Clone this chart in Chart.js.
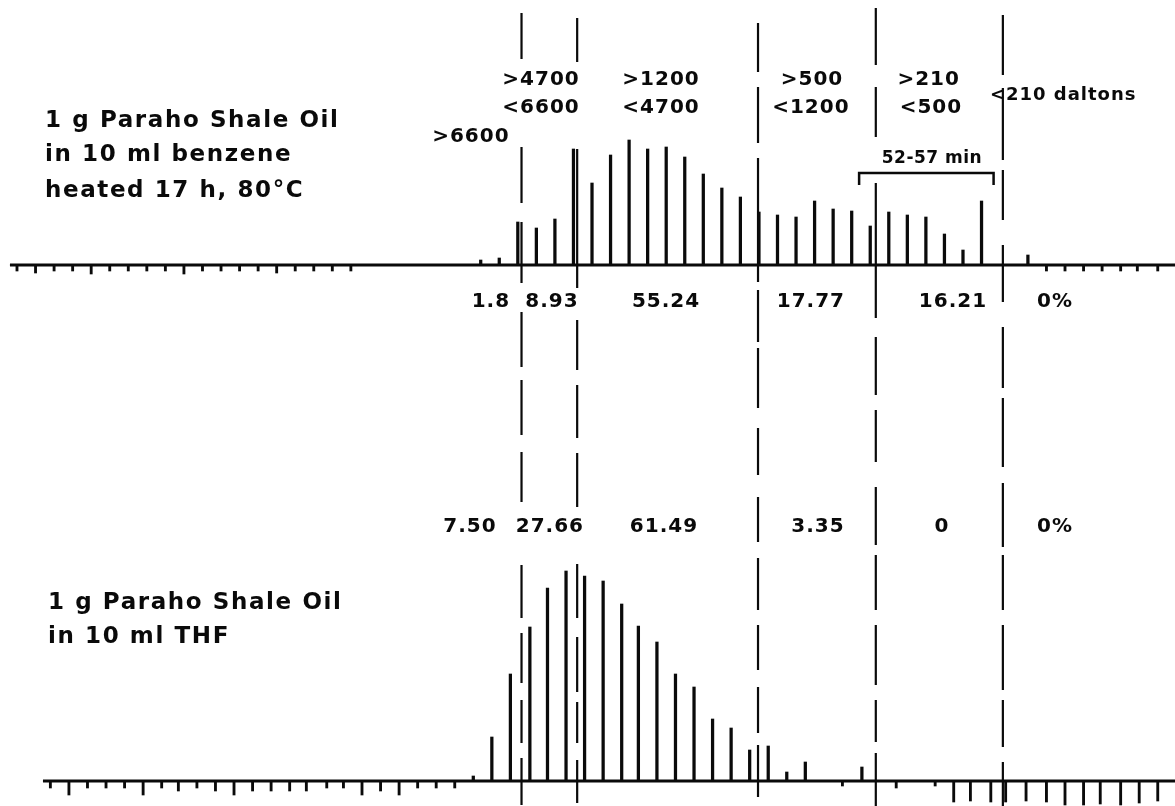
<!DOCTYPE html>
<html lang="en">
<head>
<meta charset="utf-8">
<title>Paraho shale oil – gel permeation fractions</title>
<script src="https://cdn.jsdelivr.net/npm/chart.js@4.4.1/dist/chart.umd.min.js"></script>
<style>
  html, body { margin: 0; padding: 0; background: #ffffff; }
  #frame { width: 1175px; height: 806px; }
  canvas { display: block; }
</style>
</head>
<body>
<div id="frame"><canvas id="gpc" width="1175" height="806"></canvas></div>
<script>
// ---------------- Data: fraction number (x) and recorder response (y) ----------------

// Upper trace: 1 g Paraho shale oil in 10 ml benzene, heated 17 h at 80 °C
const benzeneFractions = [25, 26, 27, 28, 29, 30, 31, 32, 33, 34, 35, 36, 37, 38, 39, 40,
                          41, 42, 43, 44, 45, 46, 47, 48, 49, 50, 51, 52, 54.5];
const benzeneResponse  = [5, 7, 43, 37, 46, 116, 82, 110, 125, 116, 118, 108, 91, 77, 68, 53,
                          50, 48, 64, 56, 54, 39, 53, 50, 48, 31, 15, 64, 10];
// timer marks written below the upper baseline
const benzeneMarkAt    = [0, 1, 2, 3, 4, 5, 6, 7, 8, 9, 10, 11, 12, 13, 14, 15, 16, 17, 18,
                          55.5, 56.5, 57.5, 58.5, 59.5, 60.4, 61.5];
const benzeneMarkDepth = [-6, -8, -6, -6, -9, -6, -6, -6, -6, -9, -6, -6, -6, -6, -8, -6, -6, -6, -6,
                          -6, -6, -6, -6, -6, -6, -6];

// Lower trace: 1 g Paraho shale oil in 10 ml THF
const thfFractions = [24.6, 25.6, 26.6, 27.65, 28.6, 29.6, 30.6, 31.6, 32.6, 33.5, 34.5, 35.5,
                      36.5, 37.5, 38.5, 39.5, 40.5, 41.5, 42.5, 45.55];
const thfResponse  = [5, 44, 107, 154, 193, 210, 205, 200, 177, 155, 139, 107, 94, 62, 53, 31,
                      35, 9, 19, 14];
// timer marks written below the lower baseline
const thfMarkAt    = [1.8, 2.8, 3.8, 4.8, 5.8, 6.8, 7.8, 8.7, 9.7, 10.7, 11.7, 12.7, 13.7, 14.7,
                      15.6, 16.7, 17.6, 18.6, 19.6, 20.6, 21.6, 22.6, 23.6,
                      44.5, 47.4, 49.5, 50.5, 51.4, 52.5, 53.3, 54.4, 55.5, 56.5, 57.5, 58.4,
                      59.5, 60.5, 61.5];
const thfMarkDepth = [-7, -14, -7, -7, -7, -14, -7, -10, -7, -10, -14, -10, -10, -10, -10, -7, -7,
                      -14, -10, -14, -7, -7, -7,
                      -5, -7, -5, -21, -20, -21, -21, -20, -21, -24, -24, -23, -24, -22, -20];

// Molecular-weight cut points (fraction number) and labels of the ranges between them
const cutPoints    = [27.2, 30.2, 39.95, 46.3, 53.15];
const rangeUpper   = ['>4700', '>1200', '>500', '>210'];
const rangeLower   = ['<6600', '<4700', '<1200', '<500'];
const benzenePct   = ['1.8', '8.93', '55.24', '17.77', '16.21', '0%'];
const thfPct       = ['7.50', '27.66', '61.49', '3.35', '0', '0%'];

// ---------------- Layout and style ----------------
const X_RANGE   = { min: -0.916, max: 62.43 };   // fraction number across the sheet
const TOP_RANGE = { min: -541, max: 265 };       // upper trace baseline at 0
const BOT_RANGE = { min: -25,  max: 781 };       // lower trace baseline at 0
const INK = '#0a0a0a';
const FONT = '"DejaVu Sans", "Liberation Sans", sans-serif';

// hand-ruled dashes of each cut line, as [from, to] in upper-trace units
const cutDashes = [
  [[252,206],[118,62],[43,-18],[-47,-102],[-115,-170],[-187,-237],[-300,-353],[-368,-418],[-435,-478],[-493,-540]],
  [[247,203],[116,-23],[-55,-105],[-120,-173],[-188,-242],[-299,-353],[-372,-427],[-437,-478],[-495,-538]],
  [[242,193],[178,122],[107,-17],[-25,-77],[-83,-143],[-163,-210],[-232,-277],[-293,-345],[-360,-405],[-422,-468],[-480,-532]],
  [[257,200],[178,128],[82,-53],[-72,-130],[-145,-197],[-222,-280],[-290,-345],[-360,-420],[-435,-477],[-488,-541]],
  [[250,190],[177,105],[95,45],[20,-37],[-62,-123],[-133,-202],[-218,-282],[-290,-345],[-360,-425],[-435,-482],[-497,-541]]
];
const pxPerUnit = 806 / (TOP_RANGE.max - TOP_RANGE.min);
function dashPattern(segs) {
  const out = [];
  segs.forEach((s, i) => {
    out.push((s[0] - s[1]) * pxPerUnit);
    if (i < segs.length - 1) out.push((s[1] - segs[i + 1][0]) * pxPerUnit);
  });
  out.push(2000);
  return out;
}

// text placed on the sheet: x in fraction number, y in the units of its trace
const rangeX      = [28.25, 34.72, 42.86, 49.15];
const rangeLowerX = [28.25, 34.72, 42.80, 49.27];
const benzenePctX = [25.55, 28.84, 34.99, 42.8, 50.46, 55.96];
const thfPctX     = [24.42, 28.73, 34.88, 43.18, 49.87, 55.96];

const notes = [
  { text: '1 g Paraho Shale Oil', x: 1.51, y: 144, axis: 'yTop', align: 'left', size: 23, spacing: 1.6 },
  { text: 'in 10 ml benzene',     x: 1.51, y: 110, axis: 'yTop', align: 'left', size: 23, spacing: 1.6 },
  { text: 'heated 17 h, 80°C',    x: 1.51, y: 74,  axis: 'yTop', align: 'left', size: 23, spacing: 1.6 },
  { text: '1 g Paraho Shale Oil', x: 1.67, y: 178, axis: 'yBot', align: 'left', size: 23, spacing: 1.6 },
  { text: 'in 10 ml THF',         x: 1.67, y: 144, axis: 'yBot', align: 'left', size: 23, spacing: 1.6 },
  { text: '>6600',                x: 24.47, y: 128, axis: 'yTop', size: 20 },
  { text: '<210 daltons',         x: 52.45, y: 170, axis: 'yTop', align: 'left', size: 18 },
  { text: '52-57 min',            x: 49.33, y: 106, axis: 'yTop', size: 17, spacing: 0.5 }
];
rangeUpper.forEach((t, i) => notes.push({ text: t, x: rangeX[i], y: 185, axis: 'yTop', size: 20 }));
rangeLower.forEach((t, i) => notes.push({ text: t, x: rangeLowerX[i], y: 157, axis: 'yTop', size: 20 }));
benzenePct.forEach((t, i) => notes.push({ text: t, x: benzenePctX[i], y: -37, axis: 'yTop', size: 20 }));
thfPct.forEach((t, i) => notes.push({ text: t, x: thfPctX[i], y: 254, axis: 'yBot', size: 20 }));

// collection-time bracket over the low-molecular-weight tail
const bracket = { from: 45.4, to: 52.65, y: 92, foot: 80 };

const pairs = (xs, ys) => xs.map((x, i) => ({ x, y: ys[i] }));

const peakStyle = { type: 'bar', backgroundColor: INK, barThickness: 2.6, grouped: false };
const markStyle = { type: 'bar', backgroundColor: INK, barThickness: 2.2, grouped: false };
const lineStyle = { type: 'line', borderColor: INK, pointRadius: 0, fill: false, tension: 0 };

const datasets = [
  { ...lineStyle, label: 'benzene baseline', yAxisID: 'yTop', borderWidth: 3,
    data: [{ x: -0.38, y: 0 }, { x: 62.6, y: 0 }] },
  { ...lineStyle, label: 'THF baseline', yAxisID: 'yBot', borderWidth: 3,
    data: [{ x: 1.4, y: 0 }, { x: 62.6, y: 0 }] },
  { ...peakStyle, label: 'benzene', yAxisID: 'yTop', data: pairs(benzeneFractions, benzeneResponse) },
  { ...markStyle, label: 'benzene timer', yAxisID: 'yTop', data: pairs(benzeneMarkAt, benzeneMarkDepth) },
  { ...peakStyle, label: 'THF', yAxisID: 'yBot', data: pairs(thfFractions, thfResponse) },
  { ...markStyle, label: 'THF timer', yAxisID: 'yBot', data: pairs(thfMarkAt, thfMarkDepth) }
];
cutPoints.forEach((c, i) => {
  const segs = cutDashes[i];
  datasets.push({
    ...lineStyle, label: 'cut ' + (i + 1), yAxisID: 'yTop', borderWidth: 2.2,
    borderDash: dashPattern(segs),
    data: [{ x: c, y: segs[0][0] }, { x: c, y: segs[segs.length - 1][1] }]
  });
});

const notesPlugin = {
  id: 'sheetNotes',
  afterDatasetsDraw(chart) {
    const { ctx, scales } = chart;
    ctx.save();
    ctx.fillStyle = INK;
    ctx.textBaseline = 'middle';
    for (const n of notes) {
      ctx.font = `bold ${n.size}px ${FONT}`;
      ctx.letterSpacing = (n.spacing ?? 1) + 'px';
      ctx.textAlign = n.align || 'center';
      ctx.fillText(n.text, scales.x.getPixelForValue(n.x), scales[n.axis].getPixelForValue(n.y));
    }
    const x0 = scales.x.getPixelForValue(bracket.from);
    const x1 = scales.x.getPixelForValue(bracket.to);
    const yb = scales.yTop.getPixelForValue(bracket.y);
    const yf = scales.yTop.getPixelForValue(bracket.foot);
    ctx.strokeStyle = INK;
    ctx.lineWidth = 2.5;
    ctx.beginPath();
    ctx.moveTo(x0, yf); ctx.lineTo(x0, yb); ctx.lineTo(x1, yb); ctx.lineTo(x1, yf);
    ctx.stroke();
    ctx.restore();
  }
};

new Chart(document.getElementById('gpc'), {
  type: 'bar',
  data: { datasets },
  plugins: [notesPlugin],
  options: {
    responsive: false,
    animation: false,
    devicePixelRatio: 1,
    events: [],
    layout: { padding: 0 },
    plugins: { legend: { display: false }, tooltip: { enabled: false }, title: { display: false } },
    scales: {
      x:    { type: 'linear', min: X_RANGE.min, max: X_RANGE.max, offset: false, display: false },
      y:    { type: 'linear', display: false },
      yTop: { type: 'linear', min: TOP_RANGE.min, max: TOP_RANGE.max, display: false },
      yBot: { type: 'linear', min: BOT_RANGE.min, max: BOT_RANGE.max, display: false }
    }
  }
});
</script>
</body>
</html>
